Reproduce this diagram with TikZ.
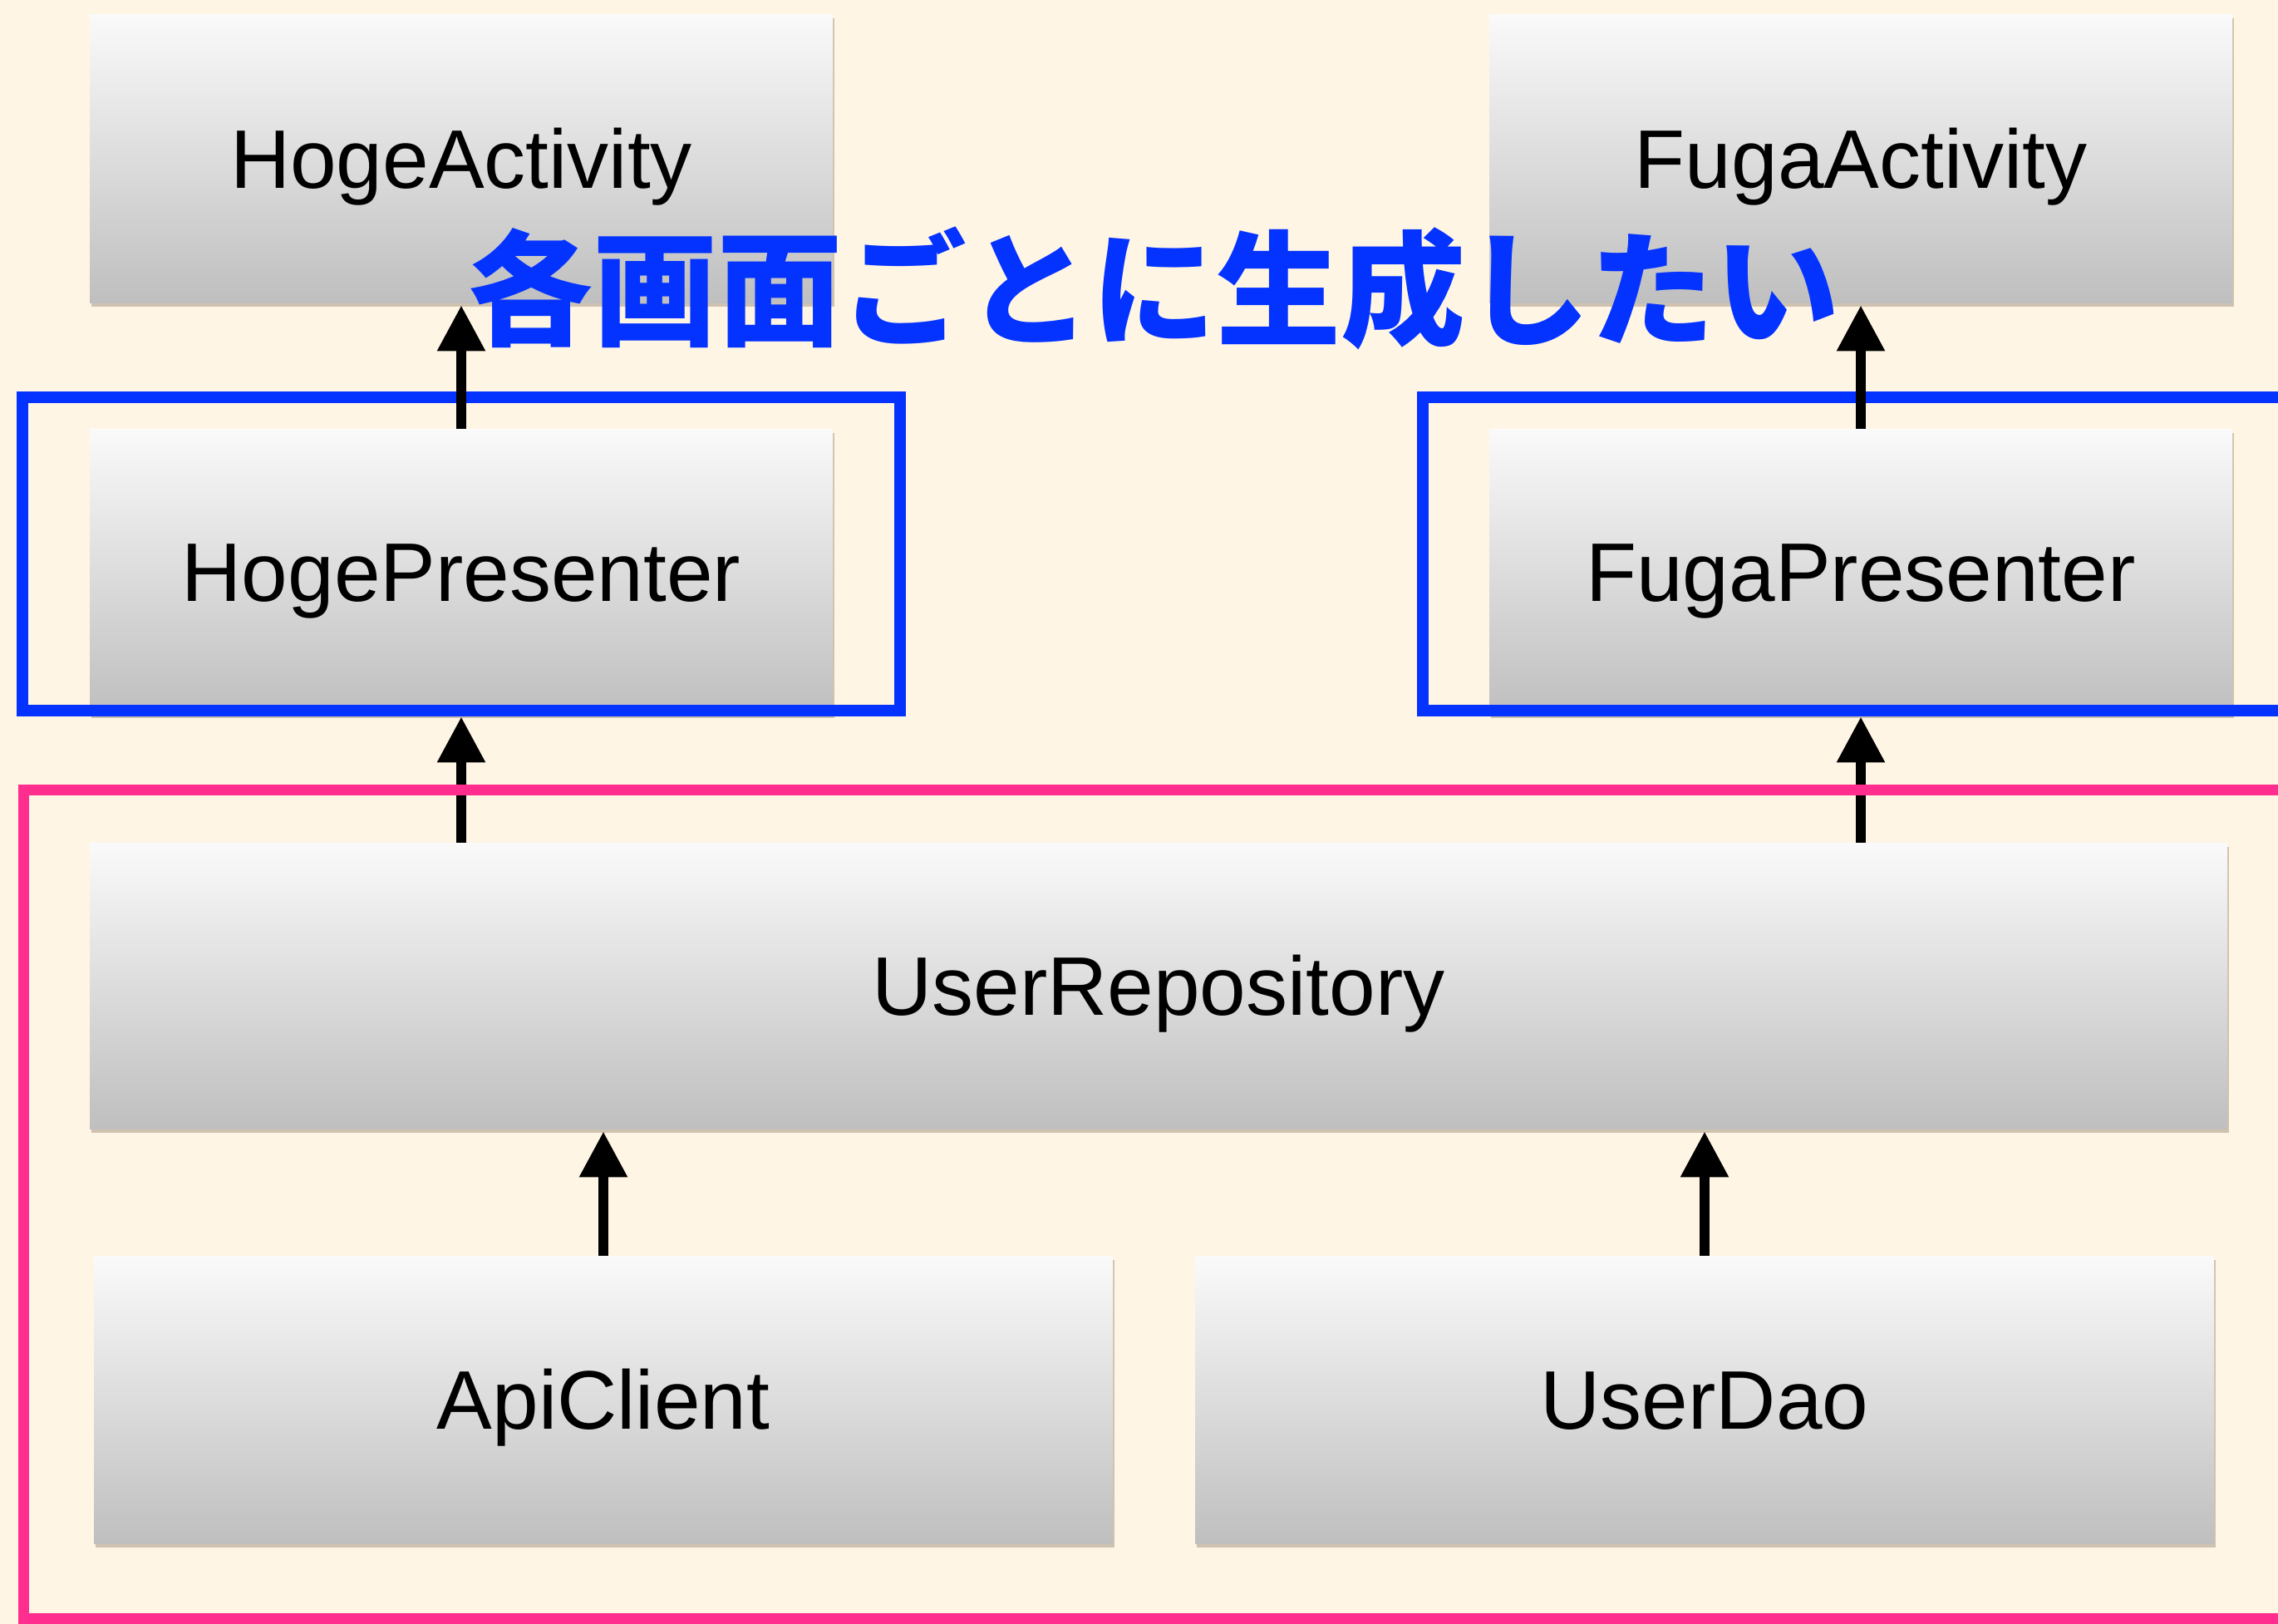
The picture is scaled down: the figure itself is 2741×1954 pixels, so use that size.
\documentclass[tikz,border=0pt]{standalone}
\usepackage{fontspec}
\setmainfont{Liberation Sans}
\newfontfamily\jpfont{Noto Sans CJK JP}
\usetikzlibrary{arrows.meta,shadows}

\definecolor{bgcream}{RGB}{255,245,228}
\definecolor{frameblue}{RGB}{4,51,255}
\definecolor{framepink}{RGB}{255,45,141}
\definecolor{boxtop}{RGB}{250,250,250}
\definecolor{boxbot}{RGB}{191,191,191}
\definecolor{shadowtone}{RGB}{120,100,80}

\tikzset{
  cls/.style={draw=none, top color=boxtop, bottom color=boxbot,
    font=\fontsize{50}{60}\selectfont, text height=35.8pt, text depth=0pt,
    inner sep=0pt,
    drop shadow={shadow xshift=1.2pt, shadow yshift=-2.5pt, opacity=0.35, fill=shadowtone}},
  topbox/.style={cls, minimum width=447pt, minimum height=173.5pt},
  midbox/.style={cls, minimum width=447pt, minimum height=171.5pt},
  repobox/.style={cls, minimum width=1286pt, minimum height=172pt},
  lowbox/.style={cls, minimum width=613pt, minimum height=173pt},
  dep/.style={line width=6pt, -{Triangle[length=27.5pt,width=27.5pt]}, shorten >=1.5pt},
  bluegroup/.style={draw=frameblue, line width=7pt},
  pinkgroup/.style={draw=framepink, line width=6.5pt},
  caption/.style={font=\jpfont\bfseries\fontsize{75}{80}\selectfont, text=frameblue, inner sep=0pt}
}

\begin{document}
\begin{tikzpicture}[x=0.5pt,y=-0.5pt]
  \clip (0,0) rectangle (2741,1954);
  \fill[bgcream] (0,0) rectangle (2741,1954);

  % class boxes
  \node[topbox] (ha) at (555,190.5) {HogeActivity};
  \node[topbox] (fa) at (2239,190.5) {FugaActivity};
  \node[midbox] (hp) at (555,687.5) {HogePresenter};
  \node[midbox] (fp) at (2239,687.5) {FugaPresenter};
  \node[repobox] (ur) at (1394,1186) {UserRepository};
  \node[lowbox] (ac) at (726,1684) {ApiClient};
  \node[lowbox] (ud) at (2051,1684) {UserDao};

  % per-screen presenter frames
  \draw[bluegroup] (27,478) rectangle (1083,855);
  \draw[bluegroup] (1712,478) rectangle (2800,855);

  % dependencies
  \draw[dep] (hp.north) -- (ha.south);
  \draw[dep] (fp.north) -- (fa.south);
  \draw[dep] (ur.north -| hp.south) -- (hp.south);
  \draw[dep] (ur.north -| fp.south) -- (fp.south);
  \draw[dep] (ac.north) -- (ur.south -| ac.north);
  \draw[dep] (ud.north) -- (ur.south -| ud.north);

  % shared data layer frame
  \draw[pinkgroup] (28,950) rectangle (2800,1947);

  \node[caption, anchor=base] (note) at (1388,404) {各画面ごとに生成したい};
\end{tikzpicture}
\end{document}
